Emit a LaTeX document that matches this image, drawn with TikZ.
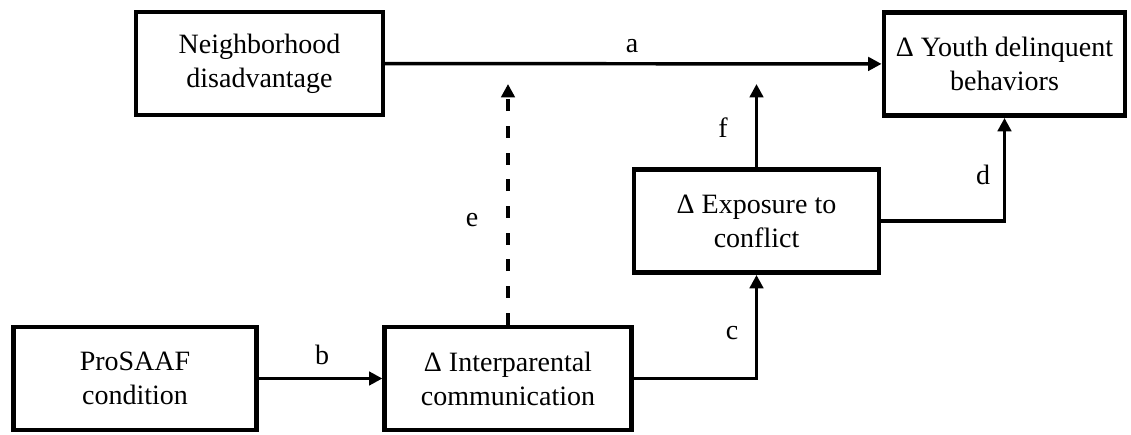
\documentclass[tikz,border=0pt]{standalone}
\usepackage{fontspec}
\setmainfont{Liberation Serif}
\usetikzlibrary{arrows.meta,positioning}

\begin{document}
\begin{tikzpicture}[x=0.75pt,y=-0.75pt,>={Triangle[length=10pt,width=10pt]},line join=miter,
    font=\fontsize{21}{25.5}\selectfont]
    \tikzset{var box/.style={draw,line width=3.4pt,align=center,minimum height=77.5pt,inner sep=0pt},
        path line/.style={line width=2.6pt,->},
        path label/.style={inner sep=0pt}}
    \useasboundingbox (0,0) rectangle (1131,435);
    % variables
    \node[var box,minimum width=185pt] (nbh) at (259.5,63.5) {Neighborhood\\disadvantage};
    \node[var box,minimum width=181pt] (youth) at (1004.5,64) {Δ Youth delinquent\\behaviors};
    \node[var box,minimum width=184pt] (expo) at (756.5,221) {Δ Exposure to\\conflict};
    \node[var box,minimum width=182pt] (pro) at (135,378.5) {ProSAAF\\condition};
    \node[var box,minimum width=185pt] (inter) at (508,378.5) {Δ Interparental\\communication};
    % moderation tips
    \coordinate (etip) at (inter.north |- 0,84);
    \coordinate (ftip) at (expo.north |- 0,84);
    % paths
    \draw[path line] (nbh) -- (youth);
    \draw[path line] (pro) -- (inter);
    \draw[path line] (inter.east) -| (expo.south);
    \draw[path line] (expo.east) -| (youth.south);
    \draw[path line] (expo.north) -- (ftip);
    \draw[path line,dashed,dash pattern=on 9pt off 11pt] (inter.north) -- (etip);
    % labels
    \node[path label] (la) at (632,46) {a};
    \node[path label] (lb) at (322,355) {b};
    \node[path label] (lc) at (732,333) {c};
    \node[path label] (ld) at (983,175) {d};
    \node[path label] (le) at (472,220) {e};
    \node[path label] (lf) at (723,128) {f};
\end{tikzpicture}
\end{document}
